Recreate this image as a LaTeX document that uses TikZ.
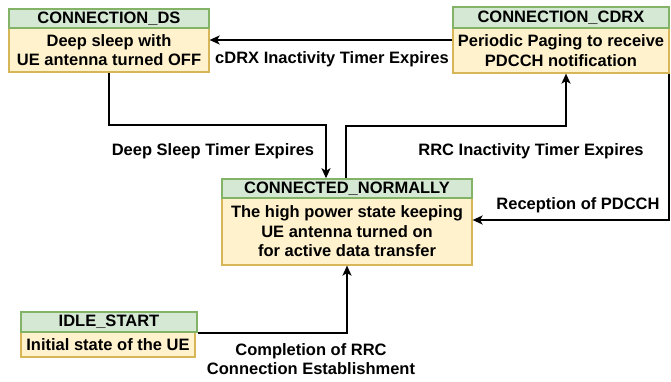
\documentclass[tikz,border=0pt]{standalone}
\usepackage{fontspec}
\setmainfont{Liberation Sans}
\usetikzlibrary{arrows.meta}
\definecolor{hdrfill}{HTML}{D5E8D4}
\definecolor{hdrline}{HTML}{82B366}
\definecolor{bodyfill}{HTML}{FFF2CC}
\definecolor{bodyline}{HTML}{D6B656}
\begin{document}
\begin{tikzpicture}[x=1pt,y=-1pt,
  every node/.style={font=\fontsize{16.5}{19.5}\selectfont\bfseries, inner sep=0pt, align=center},
  hdr/.style={draw=hdrline, fill=hdrfill, line width=1.5pt, minimum width=#1},
  hdr/.default=200pt,
  bodybox/.style={draw=bodyline, fill=bodyfill, line width=1.2pt, minimum width=#1},
  conn/.style={draw=black, line width=1.9pt, -{Stealth[length=10pt,width=9pt,inset=2.5pt]}},
  lab/.style={}]
\useasboundingbox (0,0) rectangle (671,381);
% CONNECTION_DS
\node[bodybox=200pt, minimum height=44pt] (dsb) at (109,50) {Deep sleep with\\UE antenna turned OFF};
\node[hdr=200pt, minimum height=19pt] (dsh) at (109,18.5) {CONNECTION\_DS};
% CONNECTION_CDRX
\node[bodybox=216pt, minimum height=45pt] (cdb) at (561,50.5) {Periodic Paging to receive\\PDCCH notification};
\node[hdr=216pt, minimum height=21pt] (cdh) at (561,17.5) {CONNECTION\_CDRX};
% CONNECTED_NORMALLY
\node[bodybox=250pt, minimum height=67pt] (cnb) at (347,231.5) {The high power state keeping\\UE antenna turned on\\for active data transfer};
\node[hdr=250pt, minimum height=19pt] (cnh) at (347,188.5) {CONNECTED\_NORMALLY};
% IDLE_START
\node[bodybox=174pt, minimum height=25pt] (idb) at (108,344.5) {Initial state of the UE};
\node[hdr=176pt, minimum height=20pt] (idh) at (109,322) {IDLE\_START};
% labels
\node[lab] (l1) at (332,59) {cDRX Inactivity Timer Expires};
\node[lab] (l2) at (213,151) {Deep Sleep Timer Expires};
\node[lab] (l3) at (531,151) {RRC Inactivity Timer Expires};
\node[lab] (l4) at (578,205) {Reception of PDCCH};
\node[lab] (l5) at (311,359) {Completion of RRC\\Connection Establishment};
% connectors
\draw[conn] ([yshift=10.5pt]cdb.west) -- ([yshift=10pt]dsb.east);
\draw[conn] (dsb.south) |- (326,125) coordinate (c2) -- ([xshift=-21pt]cnh.north);
\draw[conn] ([xshift=-1pt]cnh.north) |- (566,126) coordinate (c3) -- ([xshift=5pt]cdb.south);
\draw[conn] ([xshift=-1pt]cdb.south east) |- ([yshift=11.5pt]cnb.east);
\draw[conn] (idh.south east) -| (cnb.south);
\end{tikzpicture}
\end{document}
